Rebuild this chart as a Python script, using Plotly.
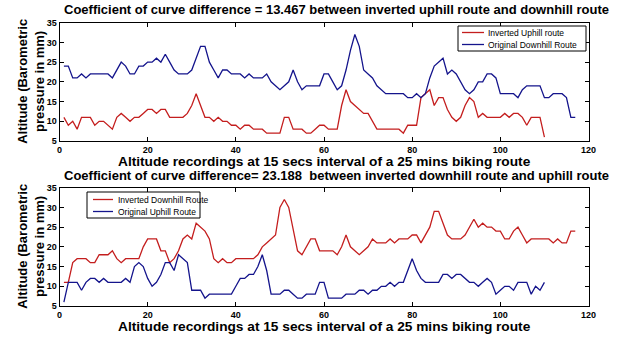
import plotly.graph_objects as go

# ---- data (top panel) ----
top_red_name = "Inverted Uphill route"
top_red = [11, 9, 10, 8, 11, 11, 11, 9, 10, 10, 9, 8, 11, 12, 11, 10, 11, 11, 12, 13,
           13, 12, 13, 13, 11, 11, 11, 11, 12, 14, 17, 14, 11, 11, 10, 11, 10, 10, 9, 9,
           8, 9, 9, 8, 8, 8, 7, 7, 7, 7, 11, 11, 8, 8, 8, 7, 7, 8, 9, 9,
           8, 8, 8, 14, 18, 15, 14, 13, 12, 12, 10, 8, 8, 8, 8, 8, 8, 7, 9, 9,
           9, 16, 17, 18, 14, 16, 16, 13, 11, 10, 11, 14, 16, 15, 11, 12, 11, 11, 11, 11,
           12, 11, 12, 12, 11, 9, 11, 11, 11, 6]
top_blue_name = "Original Downhill Route"
top_blue = [24, 24, 21, 21, 22, 21, 22, 22, 22, 22, 22, 21, 23, 25, 24, 22, 22, 24, 24, 25,
            25, 26, 25, 27, 25, 23, 22, 22, 22, 23, 26, 29, 29, 25, 23, 21, 23, 23, 22, 22,
            22, 21, 22, 21, 21, 21, 22, 20, 19, 18, 19, 20, 23, 20, 18, 19, 19, 19, 19, 22,
            22, 20, 18, 19, 23, 28, 32, 29, 23, 22, 21, 19, 18, 17, 17, 17, 17, 17, 16, 16,
            17, 16, 17, 21, 24, 25, 26, 22, 23, 22, 20, 18, 17, 18, 20, 20, 22, 22, 21, 17,
            17, 17, 17, 16, 18, 19, 19, 19, 19, 16, 16, 17, 17, 17, 16, 11, 11]

# ---- data (bottom panel) ----
bot_red_name = "Inverted Downhill Route"
bot_red = [11, 11, 16, 17, 17, 17, 16, 16, 18, 18, 18, 19, 17, 16, 17, 17, 17, 17, 20, 22,
           22, 22, 19, 19, 16, 17, 19, 22, 23, 22, 26, 25, 24, 22, 17, 16, 17, 16, 16, 17,
           17, 17, 17, 17, 18, 20, 21, 22, 23, 30, 32, 30, 24, 19, 18, 20, 22, 22, 19, 19,
           19, 19, 18, 20, 23, 20, 19, 18, 19, 20, 22, 21, 21, 21, 22, 21, 22, 22, 22, 23,
           23, 21, 23, 25, 29, 29, 26, 23, 22, 22, 22, 23, 25, 27, 25, 26, 25, 25, 24, 24,
           22, 22, 24, 25, 23, 21, 22, 22, 22, 22, 22, 21, 22, 21, 21, 24, 24]
bot_blue_name = "Original Uphill Route"
bot_blue = [6, 11, 11, 11, 9, 11, 12, 12, 11, 12, 11, 11, 11, 11, 12, 11, 15, 16, 15, 12,
            10, 11, 13, 16, 16, 14, 18, 17, 16, 9, 9, 9, 7, 8, 8, 8, 8, 8, 8, 10,
            12, 12, 13, 13, 15, 18, 14, 8, 8, 8, 9, 9, 8, 7, 7, 8, 8, 8, 11, 11,
            7, 7, 7, 7, 8, 8, 8, 9, 9, 8, 9, 9, 10, 10, 11, 10, 11, 11, 14, 17,
            14, 12, 11, 11, 11, 11, 13, 13, 12, 13, 13, 12, 11, 11, 10, 11, 12, 11, 8, 9,
            10, 10, 9, 11, 11, 11, 8, 10, 9, 11]

title_top = "Coefficient of curve difference = 13.467 between inverted uphill route and downhill route"
title_bot = "Coefficient of curve difference= 23.188  between inverted downhill route and uphill route"
x_label = "Altitude recordings at 15 secs interval of a 25 mins biking route"
y_label = "Altitude (Barometric<br>pressure in mm)"
x_ticks = [0, 20, 40, 60, 80, 100, 120]
y_ticks = [5, 10, 15, 20, 25, 30, 35]

RED = "#C41E1E"
BLUE = "#14148C"
W, H = 637, 338
FONT = "Liberation Sans, Arial, sans-serif"

fig = go.Figure()


def xs(v):
    return list(range(1, len(v) + 1))


fig.add_trace(go.Scatter(x=xs(top_red), y=top_red, mode="lines", name=top_red_name,
                         line=dict(color=RED, width=1.3), xaxis="x", yaxis="y"))
fig.add_trace(go.Scatter(x=xs(top_blue), y=top_blue, mode="lines", name=top_blue_name,
                         line=dict(color=BLUE, width=1.3), xaxis="x", yaxis="y"))
fig.add_trace(go.Scatter(x=xs(bot_red), y=bot_red, mode="lines", name=bot_red_name,
                         line=dict(color=RED, width=1.3), xaxis="x2", yaxis="y2"))
fig.add_trace(go.Scatter(x=xs(bot_blue), y=bot_blue, mode="lines", name=bot_blue_name,
                         line=dict(color=BLUE, width=1.3), xaxis="x2", yaxis="y2"))

xdom = [59.5 / W, 588.5 / W]
ytop = [1 - 141 / H, 1 - 22.7 / H]
ybot = [1 - 306 / H, 1 - 187.7 / H]

tickfont = dict(family=FONT, size=9, color="black", weight="bold")
ax_common = dict(showline=True, linecolor="black", linewidth=1, mirror="ticks",
                 ticks="inside", ticklen=4, tickcolor="black", showgrid=False,
                 zeroline=False, tickfont=tickfont, automargin=False)

fig.update_layout(
    width=W, height=H,
    margin=dict(l=0, r=0, t=0, b=0, autoexpand=False),
    paper_bgcolor="white", plot_bgcolor="white",
    xaxis=dict(domain=xdom, anchor="y", range=[0, 120], tickvals=x_ticks, **ax_common),
    yaxis=dict(domain=ytop, anchor="x", range=[5, 35], tickvals=y_ticks, **ax_common),
    xaxis2=dict(domain=xdom, anchor="y2", range=[0, 120], tickvals=x_ticks, **ax_common),
    yaxis2=dict(domain=ybot, anchor="x2", range=[5, 35], tickvals=y_ticks, **ax_common),
    showlegend=False,
)

# ---- titles & axis labels ----
xc = (xdom[0] + xdom[1]) / 2
tc = 336 / W
title_font = dict(family=FONT, size=13, color="black", weight="bold")
label_font = dict(family=FONT, size=13.7, color="black", weight="bold")
for text, xpos, ypix, f in [(title_top, tc, 9, title_font), (x_label, xc, 161, label_font),
                            (title_bot, tc, 175.5, title_font), (x_label, xc, 326.5, label_font)]:
    fig.add_annotation(xref="paper", yref="paper", showarrow=False, font=f, text=text,
                       x=xpos, y=1 - ypix / H, xanchor="center", yanchor="middle")
for yc in [(ytop[0] + ytop[1]) / 2, (ybot[0] + ybot[1]) / 2]:
    fig.add_annotation(xref="paper", yref="paper", showarrow=False, text=y_label,
                       x=31 / W, y=yc, xanchor="center", yanchor="middle", textangle=-90,
                       font=dict(family=FONT, size=13, color="black", weight="bold"))

# ---- legend boxes (drawn in paper space, matching the reference's compact legend) ----
legends = [
    ((458, 26, 586, 51), (462, 484), 486, [(32.5, RED, top_red_name), (44.5, BLUE, top_blue_name)]),
    ((87, 192, 200, 218), (93, 113), 116, [(199.5, RED, bot_red_name), (211.5, BLUE, bot_blue_name)]),
]
for (bx0, by0, bx1, by1), (lx0, lx1), tx, rows in legends:
    fig.add_shape(type="rect", xref="paper", yref="paper",
                  x0=bx0 / W, x1=bx1 / W, y0=1 - by1 / H, y1=1 - by0 / H,
                  line=dict(color="black", width=1), fillcolor="white", layer="above")
    for ry, col, name in rows:
        fig.add_shape(type="line", xref="paper", yref="paper",
                      x0=lx0 / W, x1=lx1 / W, y0=1 - ry / H, y1=1 - ry / H,
                      line=dict(color=col, width=1.3), layer="above")
        fig.add_annotation(xref="paper", yref="paper", showarrow=False, text=name,
                           x=tx / W, y=1 - ry / H, xanchor="left", yanchor="middle",
                           font=dict(family=FONT, size=8.5, color="black"))

fig.write_html(
    "out.html",
    config={"displayModeBar": False},
    post_script="document.body.style.margin='0';document.body.style.padding='0';",
)
